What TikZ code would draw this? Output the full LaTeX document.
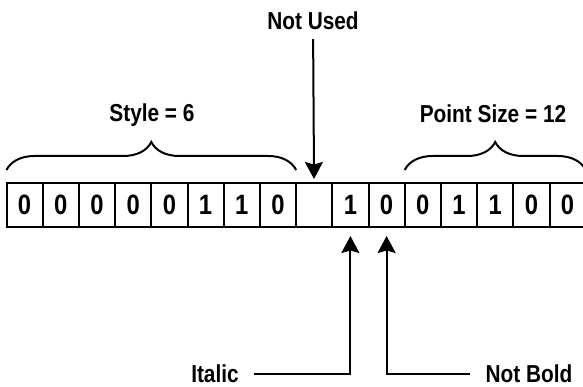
\documentclass[tikz,border=0pt]{standalone}
\usepackage{fontspec}
\setmainfont{Liberation Sans}[FakeStretch=0.85]
\usepackage{tikz}
\usetikzlibrary{positioning, arrows.meta, decorations.pathreplacing}

\begin{document}
\begin{tikzpicture}[
		x=1pt, y=-1pt,
		cell/.style={rectangle, draw, line width=2pt, inner sep=0pt, outer sep=0pt,
			minimum width=36.2pt, minimum height=44pt, font=\fontsize{28}{28}\selectfont\bfseries},
		lbl/.style={font=\fontsize{24.5}{24.5}\selectfont\bfseries, inner sep=2pt},
		arr/.style={draw, line width=2pt, -{Stealth[length=17pt, width=18pt, inset=2.5pt]}},
		brc/.style={draw, line width=2pt, decorate, decoration={brace, amplitude=28pt}}
		]
		\useasboundingbox (0,0) rectangle (583,387);
		
		% Bit cells
		\foreach \bit [count=\i] in {0,0,0,0,0,1,1,0,{},1,0,0,1,1,0,0} {
			\ifnum\i=1
				\node[cell] (b1) at (24.6,205) {\bit};
			\else
				\pgfmathtruncatemacro\prev{\i-1}
				\node[cell, right=0pt of b\prev] (b\i) {\bit};
			\fi
		}
		
		% Braces
		\draw[brc] ([yshift=13pt]b1.north west) -- ([yshift=13pt]b8.north east);
		\draw[brc] ([yshift=13pt]b11.north east) -- ([yshift=13pt]b16.north east);
		
		% Labels
		\node[lbl] (style) at (152,115) {Style = 6};
		\node[lbl] (size) at (493,114) {Point Size = 12};
		\node[lbl] (notused) at (313,21) {Not Used};
		\node[lbl] (italic) at (215,374) {Italic};
		\node[lbl] (notbold) at (529,374) {Not Bold};
		
		% Connections
		\path[arr, shorten <=7pt, shorten >=4pt] (notused) -- (b9);
		\path[arr, shorten <=13pt, shorten >=9pt] (italic) -| (b10);
		\path[arr, shorten <=13pt, shorten >=9pt] (notbold) -| (b11);
		
	\end{tikzpicture}
\end{document}
